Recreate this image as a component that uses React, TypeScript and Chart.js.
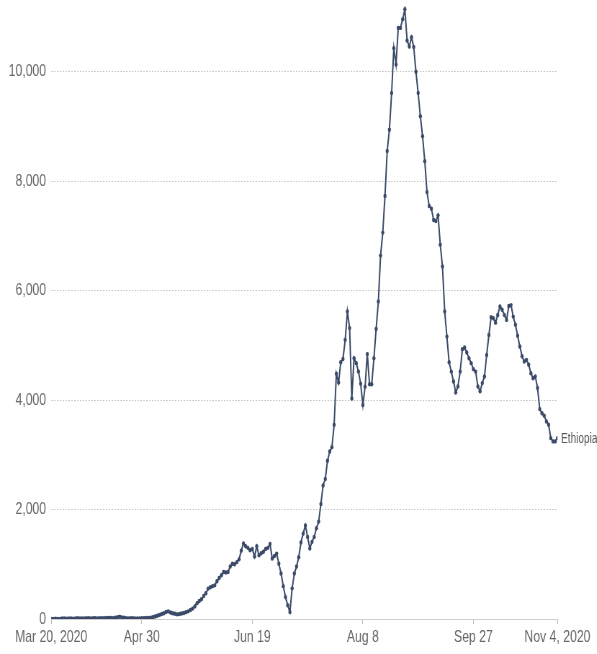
import React, { useEffect, useRef } from "react";
import { Chart, registerables } from "chart.js";

Chart.register(...registerables);

const SERIES_NAME = "Ethiopia";

// daily values starting Mar 20, 2020 (index 0) through Nov 4, 2020 (index 229)
const dailyValues: number[] = [
  0, 0, 5, 2, 0, 8, 12, 6, 10, 8,
  5, 10, 15, 12, 10, 12, 15, 14, 12, 15,
  14, 12, 15, 16, 15, 18, 20, 18, 16, 25,
  35, 40, 30, 22, 15, 12, 14, 15, 12, 10,
  12, 14, 16, 18, 20, 25, 35, 45, 60, 75,
  90, 105, 130, 140, 120, 105, 95, 85, 90, 100,
  110, 125, 140, 165, 190, 230, 290, 330, 360, 420,
  470, 555, 580, 600, 615, 690, 750, 800, 860, 850,
  860, 960, 1010, 1000, 1040, 1090, 1250, 1380, 1330, 1300,
  1255, 1280, 1140, 1330, 1165, 1200, 1230, 1280, 1300, 1370,
  1105, 1150, 1195, 1010, 830, 600, 400, 250, 130, 560,
  830, 960, 1130, 1400, 1560, 1710, 1500, 1290, 1410, 1500,
  1660, 1780, 2100, 2440, 2560, 2890, 3060, 3140, 3550, 4480,
  4320, 4690, 4750, 5100, 5620, 5315, 4030, 4765, 4675, 4520,
  4300, 3910, 4245, 4840, 4290, 4290, 4765, 5300, 5800, 6640,
  7060, 7730, 8550, 8940, 9610, 10430, 10130, 10800, 10800, 10960,
  11140, 10570, 10460, 10630, 10450, 10000, 9610, 9185, 8820, 8365,
  7800, 7545, 7495, 7290, 7270, 7375, 6840, 6440, 5620, 5160,
  4690, 4520, 4340, 4140, 4250, 4520, 4930, 4960, 4870, 4765,
  4675, 4565, 4520, 4250, 4160, 4310, 4430, 4825, 5190, 5515,
  5495, 5415, 5555, 5710, 5650, 5555, 5465, 5720, 5735, 5525,
  5375, 5175, 4980, 4800, 4705, 4735, 4645, 4490, 4400, 4430,
  4220, 3835, 3760, 3715, 3610, 3550, 3305, 3245, 3245, 3305,
];

const tickDays: number[] = [0, 41, 91, 141, 191, 229];
const tickLabels: string[] = ["Mar 20, 2020", "Apr 30", "Jun 19", "Aug 8", "Sep 27", "Nov 4, 2020"];
const yTicks: number[] = [0, 2000, 4000, 6000, 8000, 10000];
const Y_MAX = 11200;

const SQUEEZE = 0.72;
const PAGE_W = 597;
const PAGE_H = 654;
const LINE_COLOR = "#3b4a68";
const FONT_FAMILY = "'Liberation Sans', Arial, sans-serif";

export default function App() {
  const ref = useRef<HTMLCanvasElement>(null);

  useEffect(() => {
    if (!ref.current) return;
    const endLabel = {
      id: "endLabel",
      afterDatasetsDraw(chart: any) {
        const meta = chart.getDatasetMeta(0);
        const pt = meta.data[meta.data.length - 1];
        if (!pt) return;
        const ctx = chart.ctx;
        ctx.save();
        ctx.font = `14px ${FONT_FAMILY}`;
        ctx.fillStyle = "#555";
        ctx.textAlign = "left";
        ctx.textBaseline = "middle";
        ctx.fillText(SERIES_NAME, pt.x + 5, pt.y + 1);
        ctx.restore();
      },
    };

    const chart = new Chart(ref.current, {
      type: "line",
      data: {
        datasets: [
          {
            label: SERIES_NAME,
            data: dailyValues.map((v, i) => ({ x: i, y: v })),
            borderColor: LINE_COLOR,
            backgroundColor: LINE_COLOR,
            borderWidth: 2,
            pointRadius: 2.2,
            pointBorderWidth: 0,
            pointHoverRadius: 2.2,
            tension: 0,
          },
        ],
      },
      plugins: [endLabel],
      options: {
        animation: false,
        responsive: true,
        maintainAspectRatio: false,
        events: [],
        layout: { padding: { top: 6, right: 55, left: 0, bottom: 0 } },
        plugins: { legend: { display: false }, tooltip: { enabled: false } },
        scales: {
          x: {
            type: "linear",
            min: 0,
            max: dailyValues.length - 1,
            afterBuildTicks: (s: any) => {
              s.ticks = tickDays.map((v) => ({ value: v }));
            },
            afterFit: (s: any) => {
              s.height = 35;
              s.paddingLeft = 0;
              s.paddingRight = 0;
            },
            ticks: {
              autoSkip: false,
              maxRotation: 0,
              padding: 3,
              color: "#666",
              font: { family: FONT_FAMILY, size: 17 },
              callback: (v: any) => {
                const idx = tickDays.indexOf(Number(v));
                return idx >= 0 ? tickLabels[idx] : "";
              },
            },
            grid: {
              display: true,
              drawOnChartArea: false,
              drawTicks: true,
              tickLength: 5,
              color: "#bbb",
              tickColor: "#bbb",
            },
            border: { display: true, color: "#ccc", width: 1 },
          },
          y: {
            type: "linear",
            min: 0,
            max: Y_MAX,
            afterBuildTicks: (s: any) => {
              s.ticks = yTicks.map((v) => ({ value: v }));
            },
            afterFit: (s: any) => {
              s.width = 71;
              s.paddingTop = 0;
              s.paddingBottom = 0;
            },
            ticks: {
              padding: 7,
              color: "#666",
              font: { family: FONT_FAMILY, size: 17 },
              callback: (v: any) => Number(v).toLocaleString("en-US"),
            },
            grid: {
              drawTicks: false,
              lineWidth: 1,
              color: (c: any) => (c.tick && c.tick.value === 0 ? "rgba(0,0,0,0)" : "#c4c4c4"),
            },
            border: { display: false, dash: [2, 2] },
          },
        },
      },
    } as any);

    return () => chart.destroy();
  }, []);

  return (
    <div
      style={{
        position: "absolute",
        left: 0,
        top: 0,
        width: PAGE_W / SQUEEZE,
        height: PAGE_H,
        transform: `scaleX(${SQUEEZE})`,
        transformOrigin: "0 0",
      }}
    >
      <canvas ref={ref} />
    </div>
  );
}
